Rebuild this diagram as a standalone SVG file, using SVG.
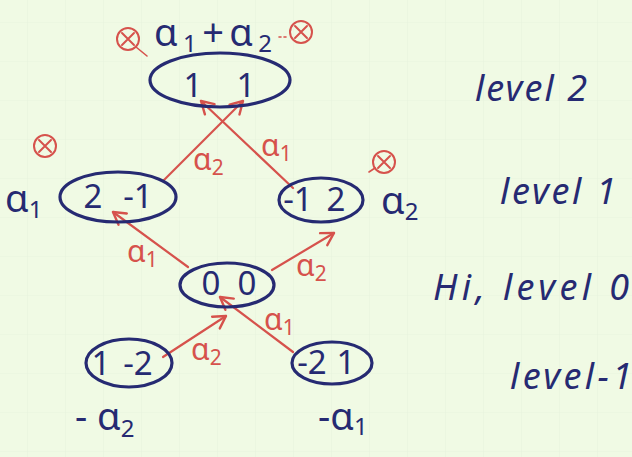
<svg xmlns="http://www.w3.org/2000/svg" width="632" height="457" viewBox="0 0 632 457">
  <defs>
    <pattern id="grid" width="38" height="39" patternUnits="userSpaceOnUse" x="27" y="22">
      <path d="M0,0 V39 M0,0 H38" fill="none" stroke="#e7f3dd" stroke-width="1.2"/>
    </pattern>
    <marker id="arrow" markerUnits="userSpaceOnUse" markerWidth="20" markerHeight="20" refX="0" refY="0" viewBox="-14 -10 16 20" orient="auto">
      <path d="M-12,-7 L0,0 L-12,7" fill="none" stroke="#d6524c" stroke-width="2.4" stroke-linecap="round" stroke-linejoin="round"/>
    </marker>
    <g id="otimes">
      <circle r="11" fill="none" stroke="#d6524c" stroke-width="2"/>
      <path d="M-6,-6 L6,6 M6,-6 L-6,6" stroke="#d6524c" stroke-width="2" stroke-linecap="round"/>
    </g>
  </defs>
  <style>
    .node ellipse { fill: none; stroke: #262a72; stroke-width: 3.2; }
    .ink { fill: #262a72; font-family: "Noto Sans", "DejaVu Sans", sans-serif; }
    .num { font-size: 33px; text-anchor: middle; }
    .greek { font-size: 38px; }
    .gsub { font-size: 24px; }
    .lvl { font-size: 36px; font-style: italic; }
    .red { fill: #d6524c; font-family: "Noto Sans", "DejaVu Sans", sans-serif; font-size: 30px; }
    .sub { font-size: 21px; }
    .edge { stroke: #d6524c; stroke-width: 2.2; fill: none; stroke-linecap: round; marker-end: url(#arrow); }
    .mark { stroke: #d6524c; stroke-width: 1.6; fill: none; stroke-linecap: round; }
  </style>

  <!-- squared paper -->
  <rect width="632" height="457" fill="#f0fae4"/>
  <rect width="632" height="457" fill="url(#grid)"/>

  <!-- connectors -->
  <g id="connectors">
    <path class="edge" d="M163,181 L243,101"/>
    <path class="edge" d="M293,188 L201,101"/>
    <path class="edge" d="M188,267 L113,212"/>
    <path class="edge" d="M272,270 L334,233"/>
    <path class="edge" d="M163,357 L226,316"/>
    <path class="edge" d="M293,352 L220,297"/>
  </g>

  <!-- connector labels -->
  <g id="edge-labels">
    <text class="red" x="193" y="170">α<tspan class="sub" dy="5">2</tspan></text>
    <text class="red" x="261" y="156">α<tspan class="sub" dy="5">1</tspan></text>
    <text class="red" x="127" y="262">α<tspan class="sub" dy="5">1</tspan></text>
    <text class="red" x="296" y="276">α<tspan class="sub" dy="5">2</tspan></text>
    <text class="red" x="191" y="360">α<tspan class="sub" dy="5">2</tspan></text>
    <text class="red" x="264" y="330">α<tspan class="sub" dy="5">1</tspan></text>
  </g>

  <!-- level 2 -->
  <g id="node-top" class="node">
    <ellipse cx="220" cy="80" rx="70" ry="27"/>
    <text class="ink num" x="193" y="97">1</text>
    <text class="ink num" x="246" y="97">1</text>
  </g>
  <text class="ink greek" x="154" y="46" textLength="118">α<tspan class="gsub" dy="6">1</tspan><tspan dy="-6">+α</tspan><tspan class="gsub" dy="6">2</tspan></text>
  <use href="#otimes" x="128" y="39"/>
  <path class="mark" d="M136,47 L147,56"/>
  <use href="#otimes" x="301" y="32"/>
  <path class="mark" d="M279,37 L288,37" stroke-dasharray="2 3"/>

  <!-- level 1 -->
  <g id="node-left" class="node">
    <ellipse cx="118" cy="197" rx="58" ry="25"/>
    <text class="ink num" x="93" y="208">2</text>
    <text class="ink num" x="138" y="208">-1</text>
  </g>
  <text class="ink greek" x="5" y="212">α<tspan class="gsub" dy="6">1</tspan></text>
  <use href="#otimes" x="45" y="146"/>

  <g id="node-right" class="node">
    <ellipse cx="321" cy="200" rx="42" ry="22"/>
    <text class="ink num" x="298" y="211">-1</text>
    <text class="ink num" x="336" y="211">2</text>
  </g>
  <text class="ink greek" x="381" y="214">α<tspan class="gsub" dy="6">2</tspan></text>
  <use href="#otimes" x="384" y="162"/>
  <path class="mark" d="M375,168 L369,172"/>

  <!-- level 0 -->
  <g id="node-middle" class="node">
    <ellipse cx="227" cy="285" rx="47" ry="22"/>
    <text class="ink num" x="211" y="295">0</text>
    <text class="ink num" x="247" y="295">0</text>
  </g>

  <!-- level -1 -->
  <g id="node-bottom-left" class="node">
    <ellipse cx="129" cy="363" rx="43" ry="24"/>
    <text class="ink num" x="101" y="375">1</text>
    <text class="ink num" x="138" y="375">-2</text>
  </g>
  <text class="ink greek" x="75" y="430">- α<tspan class="gsub" dy="7">2</tspan></text>

  <g id="node-bottom-right" class="node">
    <ellipse cx="332" cy="363" rx="40" ry="21"/>
    <text class="ink num" x="312" y="374">-2</text>
    <text class="ink num" x="346" y="374">1</text>
  </g>
  <text class="ink greek" x="318" y="430">-α<tspan class="gsub" dy="5">1</tspan></text>

  <!-- level captions -->
  <g id="levels">
    <text class="ink lvl" x="475" y="101" textLength="112">level 2</text>
    <text class="ink lvl" x="500" y="204" textLength="116">level 1</text>
    <text class="ink lvl" x="433" y="300" textLength="196">Hi, level 0</text>
    <text class="ink lvl" x="510" y="389" textLength="122">level-1</text>
  </g>
</svg>
